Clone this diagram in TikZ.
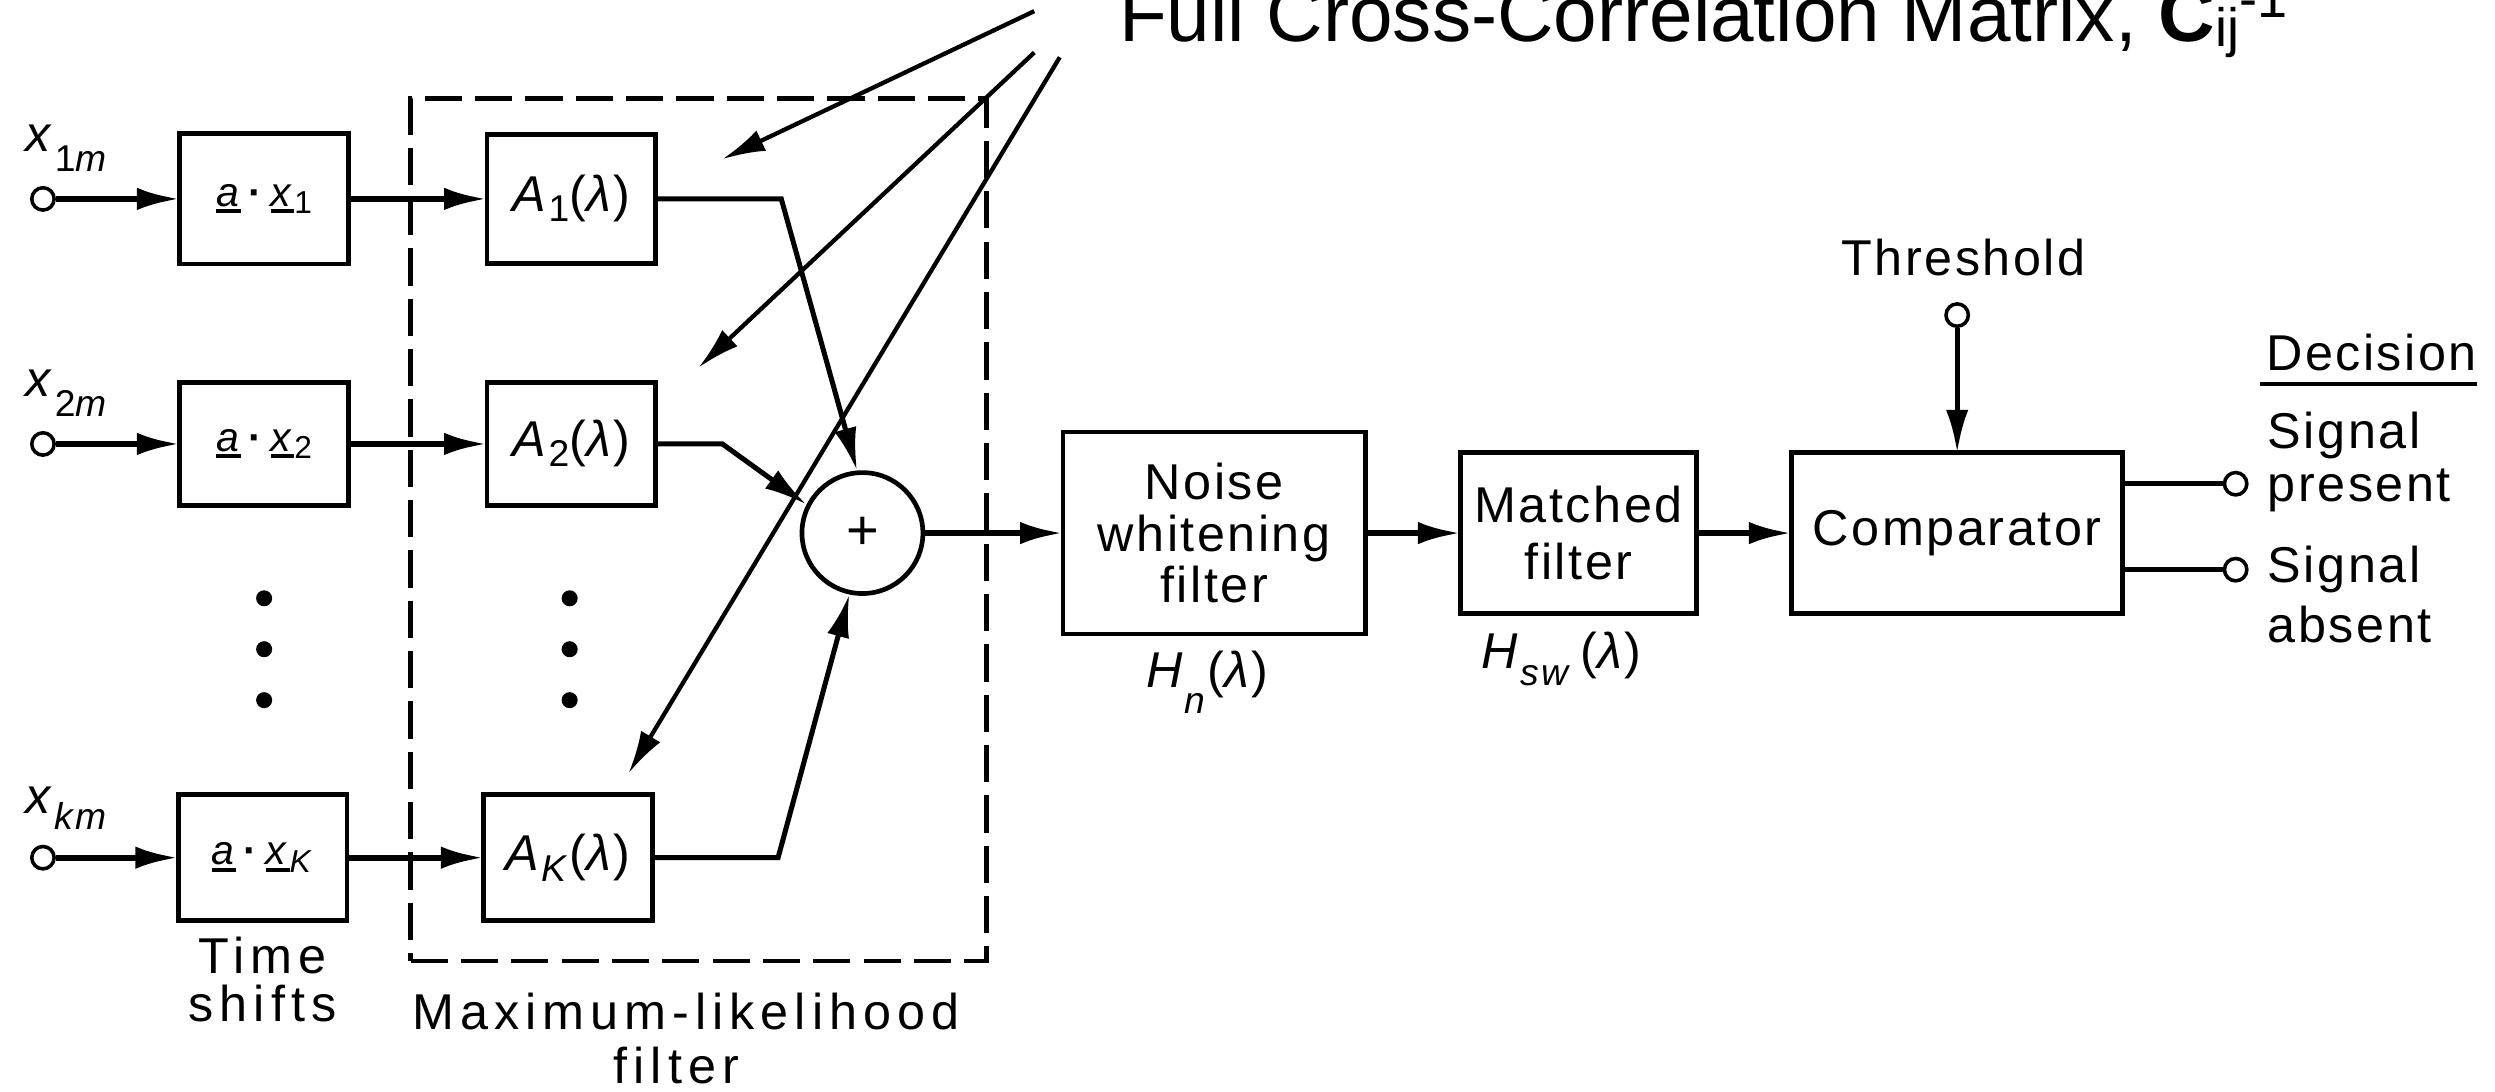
\documentclass[tikz,border=0pt]{standalone}
\usepackage{fontspec}
\setmainfont{Liberation Sans}[LetterSpace=5]
\newfontfamily\titlefont{Liberation Sans}
\newfontfamily\widefont{Liberation Sans}[LetterSpace=12]
\usetikzlibrary{arrows.meta}
\def\px{0.8536pt}
\newcommand\myul[1]{\setbox0=\hbox{#1}\rlap{\raisebox{-3.5pt}{\rule{\wd0}{1.8pt}}}\box0}
\newcommand\lowsub[2]{\raisebox{#1}{\fontsize{20}{20}\selectfont #2}}
\newcommand\tssub[1]{\raisebox{-4pt}{\fontsize{17}{17}\selectfont #1}}
\begin{document}
\begin{tikzpicture}[x=0.03cm,y=-0.03cm,
  blk/.style={draw,line width=2.5pt,inner sep=0pt,outer sep=0pt,align=center,
    font=\fontsize{27}{27.5}\selectfont},
  sig/.style={line width=3.3pt},
  med/.style={line width=2.7pt},
  cross/.style={line width=2.3pt},
  arr/.style={-{Latex[length=23pt,width=12pt]}},
  term/.style={draw,circle,line width=1.9pt,minimum size=12pt,inner sep=0pt,fill=white},
  lbl/.style={inner sep=0pt,font=\fontsize{27}{27.5}\selectfont},
  dot/.style={fill=black}
]
\useasboundingbox (0,0) rectangle (1568,686);

% title
\node[anchor=base west,inner sep=0pt,font=\titlefont\fontsize{42}{42}\selectfont] (title) at (703,26)
  {Full Cross-Correlation Matrix, \textbf{C}\raisebox{-3pt}{\fontsize{29}{29}\selectfont ij}\raisebox{13pt}{\fontsize{29}{29}\selectfont -1}};
\coordinate (c1) at (650,7);
\coordinate (c2) at (650,33);
\coordinate (c3) at (666,36);
\coordinate (t1) at (454,100);
\coordinate (t2) at (439,231);
\coordinate (t3) at (395,486);

% dashed ML filter frame
\node[draw,line width=2.3pt,dash pattern=on 20pt off 7pt,inner sep=0pt,
  minimum width=362*\px,minimum height=542*\px] (mlf) at (439,333) {};

% inputs
\node[term] (in1) at (27,125) {};
\node[term] (in2) at (27,279) {};
\node[term] (ink) at (27,539) {};
\node[lbl,anchor=base west] (lx1) at (16,95) {\textit{x}\lowsub{-11pt}{1\textit{m}}};
\node[lbl,anchor=base west] (lx2) at (16,249) {\textit{x}\lowsub{-11pt}{2\textit{m}}};
\node[lbl,anchor=base west] (lxk) at (16,511) {\textit{x}\lowsub{-9pt}{\textit{km}}};

% time shift boxes
\node[blk,minimum width=106*\px,minimum height=82*\px] (ts1) at (166,125)
  {\fontsize{22}{22}\selectfont\myul{\textit{a}}\,\textbf{·}\,\myul{\textit{x}}\tssub{1}};
\node[blk,minimum width=106*\px,minimum height=77*\px] (ts2) at (166,279)
  {\fontsize{22}{22}\selectfont\myul{\textit{a}}\,\textbf{·}\,\myul{\textit{x}}\tssub{2}};
\node[blk,minimum width=106*\px,minimum height=79*\px] (tsk) at (165,539)
  {\fontsize{22}{22}\selectfont\myul{\textit{a}}\,\textbf{·}\,\myul{\textit{x}}\tssub{\textit{K}}};

% A filters
\node[blk,minimum width=106*\px,minimum height=81*\px] (A1) at (359,125)
  {\textit{A}\lowsub{-5pt}{1}(\textit{λ})};
\node[blk,minimum width=106*\px,minimum height=77*\px] (A2) at (359,279)
  {\textit{A}\lowsub{-5pt}{2}(\textit{λ})};
\node[blk,minimum width=106*\px,minimum height=79*\px] (AK) at (357,539)
  {\textit{A}\lowsub{-6pt}{\textit{K}}(\textit{λ})};

% dots
\foreach \yy in {376,408,440} {
  \fill[dot] (166,\yy) circle[radius=4.3pt];
  \fill[dot] (358,\yy) circle[radius=4.3pt];
}

% summation
\node[draw,circle,line width=2.5pt,minimum size=76*\px,inner sep=0pt,
  font=\fontsize{30}{30}\selectfont] (sum) at (542,335) {+};

% later blocks
\node[blk,minimum width=190*\px,minimum height=127*\px] (nw) at (763,335)
  {Noise\\whitening\\filter};
\node[blk,minimum width=148*\px,minimum height=101*\px] (mf) at (992,335)
  {Matched\\[3pt]filter};
\node[blk,minimum width=208*\px,minimum height=101*\px] (cmp) at (1230,335)
  {Comparator};

\node[term] (thr) at (1230,198) {};
\node[term] (o1) at (1405,304) {};
\node[term] (o2) at (1405,358) {};

% labels
\node[lbl,anchor=base] (lthr) at (1234,173) {Threshold};
\node[lbl,anchor=base west] (dec) at (1424,233) {Decision};
\draw[line width=2.4pt] ([xshift=-3pt,yshift=-7pt]dec.base west) -- ([yshift=-7pt]dec.base east);
\node[lbl,anchor=base west] (sp1) at (1425,282) {Signal};
\node[lbl,anchor=base west] (sp2) at (1425,315) {present};
\node[lbl,anchor=base west] (sa1) at (1425,366) {Signal};
\node[lbl,anchor=base west] (sa2) at (1425,404) {absent};
\node[lbl,anchor=base west] (hn) at (720,432) {\textit{H}\lowsub{-14pt}{\textit{n}}(\textit{λ})};
\node[lbl,anchor=base west] (hsw) at (931,420) {\textit{H}\lowsub{-9pt}{\textit{sw}}\,(\textit{λ})};
\node[lbl,anchor=base,font=\widefont\fontsize{27}{27}\selectfont] (lt1) at (165,612) {Time};
\node[lbl,anchor=base,font=\widefont\fontsize{27}{27}\selectfont] (lt2) at (165,642) {shifts};
\node[lbl,anchor=base,font=\widefont\fontsize{27}{27}\selectfont] (lm1) at (431,647) {Maximum-likelihood};
\node[lbl,anchor=base,font=\widefont\fontsize{27}{27}\selectfont] (lm2) at (425,681) {filter};

% bend points
\coordinate (b1) at (491,125);
\coordinate (b2) at (454,279);
\coordinate (bk) at (489,539);

% connectors
\draw[sig,arr] (in1) -- (ts1);
\draw[sig,arr] (in2) -- (ts2);
\draw[sig,arr] (ink) -- (tsk);
\draw[sig,arr] (ts1) -- (A1);
\draw[sig,arr] (ts2) -- (A2);
\draw[sig,arr] (tsk.east) -- (AK.west);
\draw[med,arr] (A1.east) -- (b1) -- (sum.95);
\draw[med,arr] (A2.east) -- (b2) -- (sum.153);
\draw[med,arr] (AK.east) -- (bk) -- (sum.258);
\draw[sig,arr] (sum) -- (nw);
\draw[sig,arr] (nw) -- (mf);
\draw[sig,arr] (mf) -- (cmp);
\draw[med,arr] (thr) -- (cmp);
\draw[med] (cmp.east |- o1) -- (o1);
\draw[med] (cmp.east |- o2) -- (o2);

% cross-correlation pointers
\draw[cross,arr] (c1) -- (t1);
\draw[cross,arr] (c2) -- (t2);
\draw[cross,arr] (c3) -- (t3);
\end{tikzpicture}
\end{document}
